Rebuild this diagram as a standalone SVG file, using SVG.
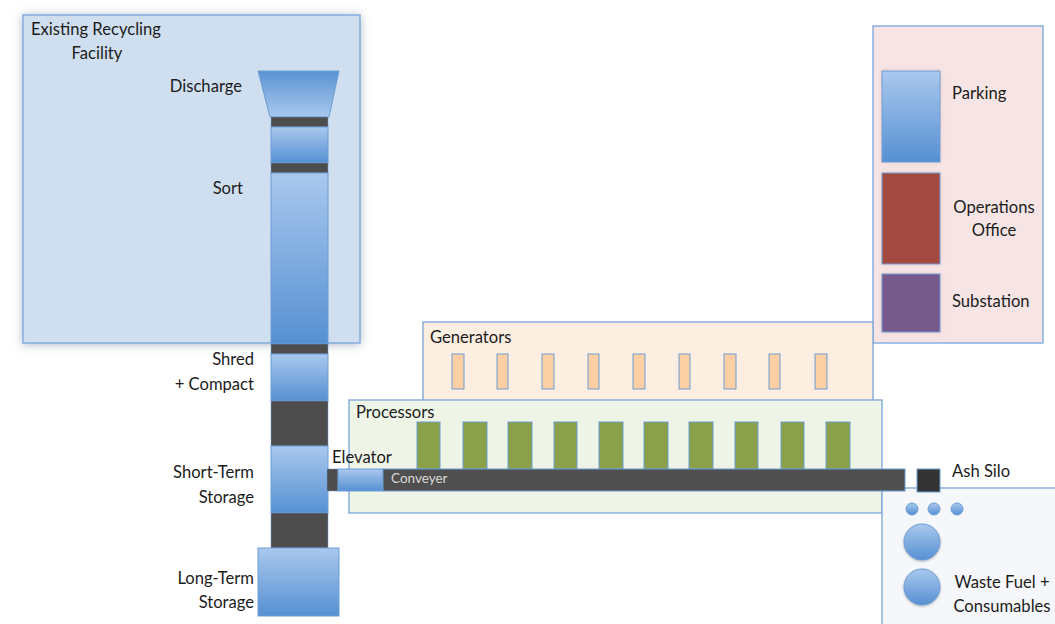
<svg xmlns="http://www.w3.org/2000/svg" width="1055" height="624" viewBox="0 0 1055 624">
<defs>
<linearGradient id="bg" x1="0" y1="0" x2="0" y2="1">
<stop offset="0" stop-color="#a9c8ee"/>
<stop offset="1" stop-color="#5690d2"/>
</linearGradient>
<linearGradient id="bgTrap" x1="0" y1="0" x2="0" y2="1">
<stop offset="0" stop-color="#5a93d3"/>
<stop offset="1" stop-color="#a9c8ee"/>
</linearGradient>
<filter id="sh" x="-10%" y="-10%" width="120%" height="120%">
<feDropShadow dx="0" dy="1" stdDeviation="5" flood-color="#7a8aa0" flood-opacity="0.6"/>
</filter>
<filter id="sh2" x="-20%" y="-20%" width="140%" height="140%">
<feDropShadow dx="0" dy="0" stdDeviation="2" flood-color="#c08a8a" flood-opacity="0.35"/>
</filter>
<filter id="sh3" x="-20%" y="-20%" width="140%" height="140%">
<feDropShadow dx="0" dy="1" stdDeviation="1.2" flood-color="#333" flood-opacity="0.35"/>
</filter>
</defs>
<style>
.lbl{font-family:Lato,"Liberation Sans",sans-serif;font-size:16.6px;fill:#1c1c1c}
.r{text-anchor:end}
.c{text-anchor:middle}
.seg{fill:url(#bg);stroke:#6d9dd4;stroke-width:1}
.dark{fill:#4d4d4d;stroke:#6d9dd4;stroke-width:0.5}
.gen{fill:#fdcfa4;stroke:#6d9dd4;stroke-width:1}
.proc{fill:#8aa14a;stroke:#6d9dd4;stroke-width:1}
.panel{stroke:#79a6d9;stroke-width:1.3}
.circ{fill:url(#bg);stroke:#6d9dd4;stroke-width:1}
</style>
<rect width="1055" height="624" fill="#ffffff"/>

<g id="existing-facility">
<rect class="panel" x="23" y="15" width="337" height="328" fill="#cfdff0" filter="url(#sh)"/>
<text class="lbl" x="31" y="35">Existing Recycling</text>
<text class="lbl c" x="97" y="59">Facility</text>
</g>

<g id="operations-panel">
<rect class="panel" x="873" y="26" width="170" height="317" fill="#f7e5e5"/>
<rect x="882" y="71" width="58" height="91" fill="url(#bg)" stroke="#6d9dd4" filter="url(#sh2)"/>
<text class="lbl" x="952" y="99">Parking</text>
<rect x="882" y="173" width="58" height="91" fill="#a34a40" stroke="#6d9dd4" filter="url(#sh2)"/>
<text class="lbl c" x="994" y="213">Operations</text>
<text class="lbl c" x="994" y="236">Office</text>
<rect x="882" y="274" width="58" height="58" fill="#745a8b" stroke="#6d9dd4" filter="url(#sh2)"/>
<text class="lbl" x="952" y="307">Substation</text>
</g>

<g id="generators">
<rect class="panel" x="423" y="322" width="450" height="80" fill="#fdeee2"/>
<text class="lbl" x="430" y="343">Generators</text>
<rect class="gen" x="452" y="354" width="12" height="35"/>
<rect class="gen" x="497" y="354" width="11" height="35"/>
<rect class="gen" x="542" y="354" width="12" height="35"/>
<rect class="gen" x="588" y="354" width="11" height="35"/>
<rect class="gen" x="633" y="354" width="12" height="35"/>
<rect class="gen" x="679" y="354" width="11" height="35"/>
<rect class="gen" x="724" y="354" width="12" height="35"/>
<rect class="gen" x="769" y="354" width="11" height="35"/>
<rect class="gen" x="815" y="354" width="12" height="35"/>
</g>

<g id="processors">
<rect class="panel" x="349" y="400" width="533" height="113" fill="#eef5e7"/>
<text class="lbl" x="356" y="418">Processors</text>
<rect class="proc" x="417" y="422" width="23" height="47"/>
<rect class="proc" x="463" y="422" width="24" height="47"/>
<rect class="proc" x="508" y="422" width="24" height="47"/>
<rect class="proc" x="554" y="422" width="23" height="47"/>
<rect class="proc" x="599" y="422" width="24" height="47"/>
<rect class="proc" x="644" y="422" width="24" height="47"/>
<rect class="proc" x="689" y="422" width="24" height="47"/>
<rect class="proc" x="735" y="422" width="23" height="47"/>
<rect class="proc" x="781" y="422" width="23" height="47"/>
<rect class="proc" x="826" y="422" width="24" height="47"/>
</g>

<g id="waste-fuel">
<rect class="panel" x="882" y="488" width="180" height="150" fill="#f5f7fa"/>
<circle class="circ" cx="912" cy="509" r="6"/>
<circle class="circ" cx="934" cy="509" r="6"/>
<circle class="circ" cx="957" cy="509" r="6"/>
<circle class="circ" cx="922" cy="542" r="18" filter="url(#sh3)"/>
<circle class="circ" cx="922" cy="587" r="18" filter="url(#sh3)"/>
<text class="lbl c" x="1002" y="588">Waste Fuel +</text>
<text class="lbl c" x="1002" y="612">Consumables</text>
</g>

<g id="process-column">
<polygon points="258,71 339,71 329,117 270,117" fill="url(#bgTrap)" stroke="#6d9dd4" stroke-width="1"/>
<text class="lbl r" x="242" y="92">Discharge</text>
<rect class="dark" x="271" y="117" width="57" height="10"/>
<rect class="seg" x="271" y="127" width="57" height="36"/>
<rect class="dark" x="271" y="163" width="57" height="10"/>
<rect class="seg" x="271" y="173" width="57" height="171"/>
<text class="lbl r" x="243" y="194">Sort</text>
<rect class="dark" x="271" y="344" width="57" height="10"/>
<rect class="seg" x="271" y="354" width="57" height="47"/>
<text class="lbl r" x="254" y="365">Shred</text>
<text class="lbl r" x="254" y="390">+ Compact</text>
<rect class="dark" x="271" y="401" width="57" height="45"/>
<rect class="seg" x="271" y="446" width="57" height="67"/>
<text class="lbl r" x="254" y="478">Short-Term</text>
<text class="lbl r" x="254" y="503">Storage</text>
<rect class="dark" x="271" y="513" width="57" height="35"/>
<rect class="seg" x="258" y="548" width="81" height="68"/>
<text class="lbl r" x="254" y="584">Long-Term</text>
<text class="lbl r" x="254" y="608">Storage</text>
</g>

<g id="connectors">
<rect class="dark" x="327" y="469" width="11" height="22"/>
<rect class="seg" x="338" y="469" width="45" height="22"/>
<text class="lbl" x="332" y="463">Elevator</text>
<rect x="383" y="469" width="522" height="22" fill="#4f4f4f" stroke="#6d9dd4" stroke-width="1"/>
<text x="391" y="483" font-family="Lato,'Liberation Sans',sans-serif" font-size="13.5" fill="#d9d9d9">Conveyer</text>
</g>

<g id="ash-silo">
<rect x="917" y="469" width="23" height="23" fill="#333333" stroke="#6d9dd4" stroke-width="1"/>
<text class="lbl" x="952" y="477">Ash Silo</text>
</g>
</svg>
